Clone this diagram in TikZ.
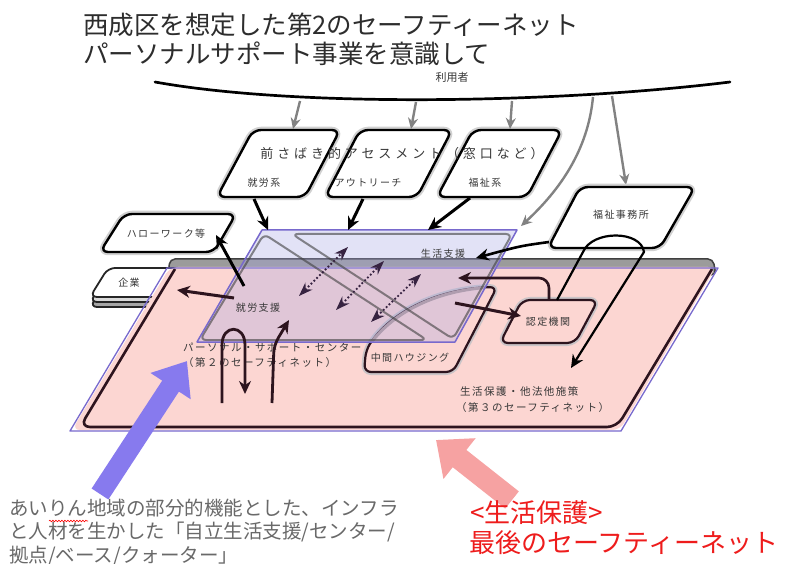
\documentclass[tikz,border=0pt]{standalone}
\usepackage{fontspec}
\setmainfont{Noto Sans CJK JP}
\usetikzlibrary{arrows.meta,decorations.pathmorphing}
\definecolor{pinkbg}{RGB}{252,214,210}
\definecolor{lav}{RGB}{165,165,228}
\definecolor{purp}{RGB}{120,105,205}
\definecolor{darkb}{RGB}{45,20,30}
\definecolor{txtg}{RGB}{55,55,55}
\definecolor{arrowg}{RGB}{130,130,130}
\definecolor{bigpurp}{RGB}{135,122,238}
\definecolor{bigpink}{RGB}{246,162,162}
\definecolor{redt}{RGB}{238,28,28}
\definecolor{grayt}{RGB}{105,105,105}
\definecolor{titlec}{RGB}{45,45,45}
\definecolor{rimgray}{RGB}{155,155,155}
\definecolor{dotc}{RGB}{55,35,65}
\begin{document}
\begin{tikzpicture}[x=1pt,y=-1pt,line join=round,
 box/.style={draw=black,line width=2.4pt,rounded corners=8pt,fill=white,preaction={draw=black!18,line width=6.5pt}},
 pbox/.style={draw=darkb,line width=2.2pt,rounded corners=8pt,fill=pinkbg,preaction={draw=darkb!25,line width=6pt}},
 lbl/.style={inner sep=0pt,text=txtg,font=\fontsize{10}{12}\selectfont\addfontfeatures{LetterSpace=14}},
 plbl/.style={inner sep=0pt,anchor=west,text=txtg,font=\fontsize{10.5}{12}\selectfont\addfontfeatures{LetterSpace=14}},
 garr/.style={draw=arrowg,line width=2.4pt,-{Stealth[length=11pt 0 0,width=10pt 0 0]}},
 barr/.style={draw=black,line width=3pt,-{Stealth[length=13pt 0 0,width=12pt 0 0]}},
 darr/.style={draw=darkb,line width=3pt,-{Stealth[length=13pt 0 0,width=12pt 0 0]}},
 dotarr/.style={draw=dotc,line width=1.8pt,dash pattern=on 1.8pt off 2.2pt,>={Stealth[length=14pt 0 0,width=10pt 0 0]},<->},
 tri/.style={draw=black!75,draw opacity=0.6,line width=2pt,rounded corners=6pt},
]
\path[use as bounding box,fill=white] (0,0) rectangle (785,564);

% title
\node[anchor=west,inner sep=0pt,text=titlec,font=\fontsize{25.5}{30}\selectfont] (t1) at (83,25) {西成区を想定した第2のセーフティーネット};
\node[anchor=west,inner sep=0pt,text=titlec,font=\fontsize{25.5}{30}\selectfont] (t2) at (83,54) {パーソナルサポート事業を意識して};

% users arc
\coordinate (arcL) at (155,82);
\coordinate (arcR) at (730,82);
\draw[line width=2.7pt,line cap=round] (arcL) .. controls (300,108) and (560,103) .. (arcR);
\node[lbl,font=\fontsize{11}{12}\selectfont] (user) at (452,77) {利用者};

% top assessment boxes
\draw[box] (253,130) -- (340,130) -- (305,197) -- (217,197) -- cycle;
\draw[box] (360,130) -- (452,130) -- (417,197) -- (325,197) -- cycle;
\draw[box] (473,130) -- (562,130) -- (527,197) -- (437,197) -- cycle;
\node[lbl] (l1) at (264,183) {就労系};
\node[lbl] (l2) at (368,183) {アウトリーチ};
\node[lbl] (l3) at (485,183) {福祉系};
\node[lbl,font=\fontsize{13}{14}\selectfont\addfontfeatures{LetterSpace=30}] (asm) at (402,154) {前さばき的アセスメント（窓口など）};

% gray arrows from users
\coordinate (u1) at (300,101); \coordinate (u1e) at (293,129);
\coordinate (u2) at (416,102); \coordinate (u2e) at (411,129);
\coordinate (u3) at (512,101); \coordinate (u3e) at (510,129);
\coordinate (u4) at (593,97);  \coordinate (u4e) at (521,226);
\coordinate (u5) at (612,96);  \coordinate (u5e) at (626,185);
\draw[garr] (u1) -- (u1e);
\draw[garr] (u2) -- (u2e);
\draw[garr] (u3) -- (u3e);
\draw[garr] (u4) .. controls (588,150) and (560,190) .. (u4e);
\draw[garr] (u5) -- (u5e);

% hello work
\draw[box] (124,214) -- (236,214) -- (214,252) -- (100,252) -- cycle;
\node[lbl] (hw) at (166,234) {ハローワーク等};

% welfare office
\draw[box] (580,187) -- (695,187) -- (660,248) -- (548,248) -- cycle;
\node[lbl] (wo) at (621,215) {福祉事務所};

% platform rim
\draw[fill=rimgray,draw=black!75,line width=1.5pt,rounded corners=5pt] (170,259) -- (713,259) -- (716,275) -- (168,275) -- cycle;

% company stack
\foreach \d/\c in {10/black!35,5/black!15,0/white}
  \draw[fill=\c,draw=black!85,line width=1.8pt,rounded corners=7pt,shift={(0,\d)}] (108,268) -- (182,268) -- (164,297) -- (90,297) -- cycle;
\node[lbl] (co) at (129,283) {企業};

% pink platform
\fill[pinkbg,rounded corners=8pt] (170,267) -- (716,267) -- (620,430) -- (72,430) -- cycle;
\draw[darkb,line width=2.6pt,rounded corners=10pt] (712,269) -- (617,427) -- (80,427) -- (175,269);
\draw[purp,line width=1.3pt] (167,268) -- (718,268) -- (621,431) -- (70,431) -- cycle;

\node[plbl] (psc1) at (183,347) {パーソナル・サポート・センター};
\node[plbl] (psc2) at (183,363) {（第２のセーフティネット）};
\node[plbl] (sh1) at (460,391) {生活保護・他法他施策};
\node[plbl] (sh2) at (456,408) {（第３のセーフティネット）};

% intermediate housing and certification
\draw[pbox,rounded corners=7pt] (366,350) .. controls (395,305) and (450,288) .. (497,287) -- (453,372) -- (364,372) -- cycle;
\begin{scope}
  \clip (262,230) -- (517,230) -- (455,342) -- (197,342) -- cycle;
  \draw[draw=black!28!pinkbg,line width=3pt] (366,350) .. controls (395,305) and (450,288) .. (497,287);
\end{scope}
\node[lbl] (hous) at (410,358) {中間ハウジング};
\draw[pbox] (522,300) -- (598,300) -- (575,343) -- (500,343) -- cycle;
\node[lbl] (cert) at (548,322) {認定機関};

% lavender plane
\fill[lav,opacity=0.32] (262,230) -- (517,230) -- (455,342) -- (197,342) -- cycle;
\draw[tri] (264,234) -- (427,340) -- (200,340) -- cycle;
\draw[tri] (292,234) -- (512,234) -- (453,339) -- cycle;
\draw[purp,line width=1.5pt] (262,230) -- (517,230) -- (455,342) -- (197,342) -- cycle;
\node[lbl] (ls) at (443,254) {生活支援};
\node[lbl] (js) at (258,308) {就労支援};

% arrows into lavender
\coordinate (a1s) at (254,199); \coordinate (a1e) at (268,230);
\coordinate (a2s) at (363,199); \coordinate (a2e) at (348,230);
\coordinate (a3s) at (470,198); \coordinate (a3e) at (428,230);
\draw[barr] (a1s) -- (a1e);
\draw[barr] (a2s) -- (a2e);
\draw[barr] (a3s) -- (a3e);
\coordinate (a4s) at (549,242); \coordinate (a4e) at (476,258);
\draw[barr,line width=2.6pt] (a4s) .. controls (520,246) .. (a4e);
\coordinate (a5s) at (244,286); \coordinate (a5e) at (216,235);
\draw[barr] (a5s) -- (a5e);
\coordinate (a6s) at (234,298); \coordinate (a6e) at (177,290);
\draw[darr] (a6s) -- (a6e);
\coordinate (a7s) at (455,303); \coordinate (a7e) at (521,316);
\draw[darr] (a7s) -- (a7e);
\coordinate (a8s) at (549,300); \coordinate (a8e) at (458,278);
\draw[darr,line width=2.6pt,rounded corners=10pt] (a8s) -- (549,278) -- (a8e);
\coordinate (a9s) at (557,300); \coordinate (a9e) at (571,368);
\draw[barr,line width=2.2pt] (a9s) -- (583,252) .. controls (592,230) and (641,230) .. (644,252) -- (a9e);
\coordinate (a10s) at (222,403); \coordinate (a10e) at (245,394);
\draw[darr,line width=2.8pt] (a10s) -- (222,345) .. controls (222,324) and (245,324) .. (245,345) -- (a10e);
\coordinate (a11s) at (272,403); \coordinate (a11e) at (289,320);
\draw[darr,line width=2.8pt,rounded corners=8pt] (a11s) -- (274,345) -- (a11e);

% dotted double arrows
\coordinate (d1a) at (299,296); \coordinate (d1b) at (348,247);
\coordinate (d2a) at (336,310); \coordinate (d2b) at (384,261);
\coordinate (d3a) at (371,322); \coordinate (d3b) at (421,274);
\draw[dotarr] (d1a) -- (d1b);
\draw[dotarr] (d2a) -- (d2b);
\draw[dotarr] (d3a) -- (d3b);

% big arrows
\coordinate (pa0) at (100,494); \coordinate (pa1) at (187,361);
\draw[line width=20pt,bigpurp,-{Triangle[length=30pt 0 0,width=46pt 0 0]}] (pa0) -- (pa1);
\coordinate (pk0) at (512,500); \coordinate (pk1) at (436,440);
\draw[line width=22pt,bigpink,-{Triangle[length=30pt 0 0,width=50pt 0 0]}] (pk0) -- (pk1);

% bottom texts
\node[anchor=west,inner sep=0pt,text=grayt,font=\fontsize{19.5}{22}\selectfont] (g1) at (9,508) {あいりん地域の部分的機能とした、インフラ};
\node[anchor=west,inner sep=0pt,text=grayt,font=\fontsize{19.5}{22}\selectfont] (g2) at (9,532) {と人材を生かした「自立生活支援/センター/};
\node[anchor=west,inner sep=0pt,text=grayt,font=\fontsize{19.5}{22}\selectfont] (g3) at (9,556) {拠点/ベース/クォーター」};
\coordinate (wv1) at (49,521); \coordinate (wv2) at (88,521);
\draw[red,line width=0.6pt,decorate,decoration={snake,amplitude=0.8pt,segment length=3pt}] (wv1) -- (wv2);
\node[anchor=west,inner sep=0pt,text=redt,font=\fontsize{26}{28}\selectfont] (r1) at (470,513) {<生活保護>};
\node[anchor=west,inner sep=0pt,text=redt,font=\fontsize{26}{28}\selectfont] (r2) at (469,543) {最後のセーフティーネット};
\end{tikzpicture}
\end{document}
